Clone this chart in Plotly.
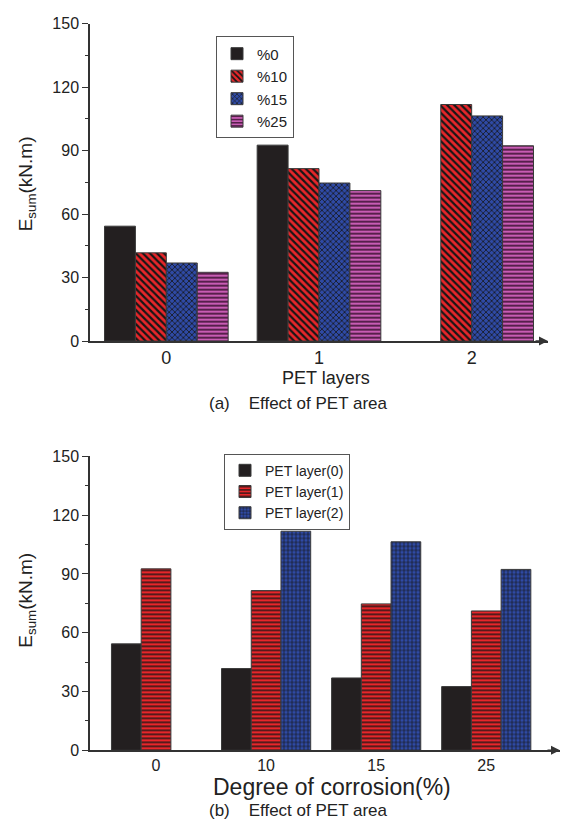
import plotly.graph_objects as go

# ---------------- data ----------------
pet_layers = ["0", "1", "2"]
corrosion = ["0", "10", "15", "25"]

# panel (a): series = degree of corrosion, x = PET layers
a_series_names = ["%0", "%10", "%15", "%25"]
a_c0 = [54.3, 92.6, None]
a_c10 = [41.7, 81.5, 111.8]
a_c15 = [36.9, 74.7, 106.4]
a_c25 = [32.5, 71.1, 92.3]

# panel (b): series = PET layers, x = degree of corrosion
b_series_names = ["PET layer(0)", "PET layer(1)", "PET layer(2)"]
b_l0 = [54.3, 41.7, 36.9, 32.5]
b_l1 = [92.6, 81.5, 74.7, 71.1]
b_l2 = [None, 111.8, 106.4, 92.3]

y_ticks = [0, 30, 60, 90, 120, 150]

# ---------------- styles ----------------
FONT = "Liberation Sans, Arial, sans-serif"
BLACK = "#231f20"
RED = "#e8262a"
BLUE = "#2f4aa5"
PINK = "#c85cb4"
EDGE = "#3a3a3a"

def mk(color, shape=None, size=6, solidity=0.4, fg="#161616"):
    m = dict(color=color, line=dict(color=EDGE, width=1))
    if shape:
        m["pattern"] = dict(shape=shape, size=size, solidity=solidity,
                            fgcolor=fg, bgcolor=color, fillmode="replace")
    return m

fig = go.Figure()

a_vals = [a_c0, a_c10, a_c15, a_c25]
a_marks = [mk(BLACK), mk(RED, "\\", 5, 0.45), mk(BLUE, "x", 4, 0.35),
           mk(PINK, "-", 4, 0.4, "#3a1030")]
for name, vals, m in zip(a_series_names, a_vals, a_marks):
    fig.add_trace(go.Bar(x=pet_layers, y=vals, name=name, marker=m,
                         xaxis="x", yaxis="y", legend="legend"))

b_vals = [b_l0, b_l1, b_l2]
b_marks = [mk(BLACK), mk(RED, "-", 4, 0.35), mk(BLUE, "+", 4, 0.3)]
for name, vals, m in zip(b_series_names, b_vals, b_marks):
    fig.add_trace(go.Bar(x=corrosion, y=vals, name=name, marker=m,
                         xaxis="x2", yaxis="y2", legend="legend2"))

W, H = 563, 834
def px(x):
    return x / W
def py(y):
    return 1 - y / H

yax = dict(range=[0, 150], tickvals=y_ticks, ticks="outside", ticklen=6,
           tickwidth=1.2, tickcolor="#333", showline=True, linecolor="#333",
           linewidth=1.5, showgrid=False, zeroline=False,
           tickfont=dict(family=FONT, size=16, color="#222"),
           minor=dict(dtick=15, ticks="outside", ticklen=3, tickcolor="#333"))
xax = dict(type="category", showline=True, linecolor="#333", linewidth=1.5,
           ticks="", showgrid=False, zeroline=False)

fig.update_layout(
    width=W, height=H,
    margin=dict(l=0, r=0, t=0, b=0),
    paper_bgcolor="white", plot_bgcolor="white",
    barmode="group", bargap=0.19, bargroupgap=0,
    font=dict(family=FONT, color="#222"),
    xaxis=dict(xax, domain=[px(90), px(548)], anchor="y", range=[-0.5, 2.5],
               tickfont=dict(family=FONT, size=18, color="#222")),
    yaxis=dict(yax, domain=[py(340), py(16)], anchor="x"),
    xaxis2=dict(xax, domain=[px(90), px(560)], anchor="y2", range=[-0.6, 3.67],
                tickfont=dict(family=FONT, size=16, color="#222")),
    yaxis2=dict(yax, domain=[py(757.7), py(457.7)], anchor="x2"),
    legend=dict(x=px(216), y=py(29), xanchor="left", yanchor="top",
                bordercolor="#555", borderwidth=1, bgcolor="white",
                font=dict(family=FONT, size=15, color="#222"),
                tracegroupgap=0, itemwidth=30),
    legend2=dict(x=px(224), y=py(455), xanchor="left", yanchor="top",
                 bordercolor="#555", borderwidth=1, bgcolor="white",
                 font=dict(family=FONT, size=14, color="#222"),
                 tracegroupgap=0, itemwidth=30),
    showlegend=True,
)

annotations = [
    dict(text="E<sub>sum</sub>(kN.m)", x=px(27), y=py(180), textangle=-90,
         font=dict(size=19)),
    dict(text="E<sub>sum</sub>(kN.m)", x=px(27), y=py(605), textangle=-90,
         font=dict(size=19)),
    dict(text="PET layers", x=px(326), y=py(378), font=dict(size=18)),
    dict(text="(a)&nbsp;&nbsp;&nbsp;&nbsp;Effect of PET area", x=px(298), y=py(404),
         font=dict(size=17)),
    dict(text="Degree of corrosion(%)", x=px(332), y=py(795), font=dict(size=23)),
    dict(text="(b)&nbsp;&nbsp;&nbsp;&nbsp;Effect of PET area", x=px(298), y=py(819),
         font=dict(size=17)),
]
for a in annotations:
    a.update(xref="paper", yref="paper", showarrow=False,
             xanchor="center", yanchor="middle")
    a["font"].update(family=FONT, color="#222")
    fig.add_annotation(**a)

# arrow heads at the ends of the x axes
for xr, yr in [("x domain", "y domain"), ("x2 domain", "y2 domain")]:
    fig.add_annotation(x=1.0, y=0, xref=xr, yref=yr, ax=-14, ay=0,
                       showarrow=True, arrowhead=2, arrowsize=1.2,
                       arrowwidth=1.5, arrowcolor="#333", text="")

fig.write_html("out.html")
